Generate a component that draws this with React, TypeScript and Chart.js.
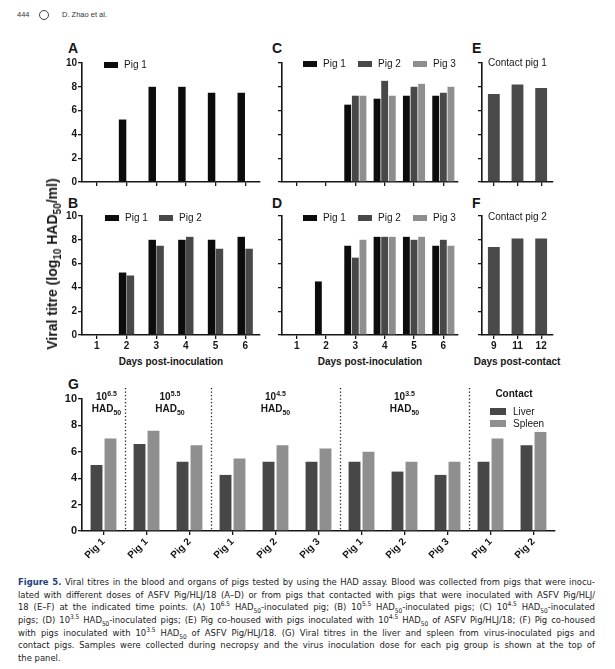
import React, { useEffect, useRef } from 'react';
import { Chart, registerables } from 'chart.js';
Chart.register(...registerables);

const FONT = '"Liberation Sans", Arial, Helvetica, sans-serif';
const CAPTION_FONT = '"Liberation Sans Narrow", "DejaVu Sans Condensed", "Liberation Sans", sans-serif';

// ---------- data ----------
const days = ['1', '2', '3', '4', '5', '6'];
const aPig1 = [null, 5.25, 8.0, 8.0, 7.5, 7.5];
const aEmpty = [null, null, null, null, null, null];
const bPig1 = [null, 5.25, 8.0, 8.0, 8.0, 8.25];
const bPig2 = [null, 5.0, 7.5, 8.25, 7.25, 7.25];
const cPig1 = [null, null, 6.5, 7.0, 7.25, 7.25];
const cPig2 = [null, null, 7.25, 8.5, 8.0, 7.5];
const cPig3 = [null, null, 7.25, 7.25, 8.25, 8.0];
const dPig1 = [null, 4.5, 7.5, 8.25, 8.25, 7.5];
const dPig2 = [null, null, 6.5, 8.25, 8.0, 8.0];
const dPig3 = [null, null, 8.0, 8.25, 8.25, 7.5];
const contactDays = ['9', '11', '12'];
const eContact1 = [7.4, 8.2, 7.9];
const fContact2 = [7.4, 8.1, 8.1];
const gLabels = ['Pig 1', 'Pig 1', 'Pig 2', 'Pig 1', 'Pig 2', 'Pig 3', 'Pig 1', 'Pig 2', 'Pig 3', 'Pig 1', 'Pig 2'];
const gLiver = [5.0, 6.6, 5.25, 4.25, 5.25, 5.25, 5.25, 4.5, 4.25, 5.25, 6.5];
const gSpleen = [7.0, 7.6, 6.5, 5.5, 6.5, 6.25, 6.0, 5.25, 5.25, 7.0, 7.5];
const gGroupSizes = [1, 2, 3, 3, 2];
const gDoses = ['6.5', '5.5', '4.5', '3.5'];
const yTicks = [0, 2, 4, 6, 8, 10];

const C_PIG1 = '#0c0c0c';
const C_PIG2 = '#484848';
const C_PIG3 = '#8e8e8e';
const C_CONTACT = '#4a4a4a';
const C_LIVER = '#474747';
const C_SPLEEN = '#8f8f8f';
const INK = '#161616';

type Geo = { pl: number; pt: number; pr: number; pb: number; yW: number; xH: number; padT: number; padR: number };
type DS = { label: string; data: (number | null)[]; color: string };

function BarPanel(props: {
  geo: Geo; labels: string[]; datasets: DS[]; showY: boolean; showX: boolean;
  catP: number; barP: number; xRot?: number; yFont?: number; plugins?: any[];
}) {
  const ref = useRef<HTMLCanvasElement>(null);
  const { geo } = props;
  const w = geo.yW + (geo.pr - geo.pl) + geo.padR;
  const h = geo.padT + (geo.pb - geo.pt) + geo.xH;
  useEffect(() => {
    const rot = props.xRot ?? 0;
    const chart = new Chart(ref.current!, {
      type: 'bar',
      data: {
        labels: props.labels,
        datasets: props.datasets.map((d) => ({
          label: d.label,
          data: d.data,
          backgroundColor: d.color,
          borderWidth: 0,
          categoryPercentage: props.catP,
          barPercentage: props.barP,
        })),
      },
      options: {
        responsive: false,
        animation: false,
        devicePixelRatio: 1,
        layout: { padding: { top: geo.padT, right: geo.padR, left: 0, bottom: 0 } },
        plugins: { legend: { display: false }, tooltip: { enabled: false } },
        scales: {
          x: {
            grid: { offset: false, drawOnChartArea: false, drawTicks: true, tickLength: 4, color: INK, lineWidth: 1.3 },
            border: { color: INK, width: 1.6 },
            ticks: {
              display: props.showX, color: INK, padding: 1, autoSkip: false,
              maxRotation: rot, minRotation: rot,
              font: { family: FONT, size: 10, weight: 'bold' },
            },
            afterFit: (s: any) => { s.height = geo.xH; },
          },
          y: {
            min: 0, max: 10,
            afterBuildTicks: (s: any) => { s.ticks = yTicks.map((v) => ({ value: v })); },
            grid: { drawOnChartArea: false, drawTicks: true, tickLength: 4, color: INK, lineWidth: 1.3 },
            border: { color: INK, width: 1.6 },
            ticks: {
              display: props.showY, color: INK, padding: 1,
              font: { family: FONT, size: props.yFont ?? 10, weight: 'bold' },
            },
            afterFit: (s: any) => { s.width = geo.yW; },
          },
        },
      } as any,
      plugins: props.plugins || [],
    });
    return () => chart.destroy();
  }, []);
  return (
    <canvas
      ref={ref}
      width={w}
      height={h}
      style={{ position: 'absolute', left: geo.pl - geo.yW, top: geo.pt - geo.padT, width: w, height: h }}
    />
  );
}

const separatorPlugin = {
  id: 'groupSeparators',
  afterDatasetsDraw(chart: any) {
    const xs = chart.scales.x;
    const { top, bottom } = chart.chartArea;
    const ctx = chart.ctx;
    ctx.save();
    ctx.strokeStyle = '#222';
    ctx.lineWidth = 1.3;
    ctx.setLineDash([1.3, 2.2]);
    let idx = 0;
    for (let g = 0; g < gGroupSizes.length - 1; g++) {
      idx += gGroupSizes[g];
      const px = Math.round((xs.getPixelForValue(idx - 1) + xs.getPixelForValue(idx)) / 2) + 0.5;
      ctx.beginPath();
      ctx.moveTo(px, top - 11);
      ctx.lineTo(px, bottom);
      ctx.stroke();
    }
    ctx.restore();
  },
};

const abs = (left: number, top: number, extra: React.CSSProperties = {}): React.CSSProperties => ({
  position: 'absolute', left, top, ...extra,
});

function Letter({ x, y, t }: { x: number; y: number; t: string }) {
  return <div style={abs(x, y, { font: `bold 14px ${FONT}`, lineHeight: '14px', color: INK })}>{t}</div>;
}

function Swatch({ x, y, c, w = 14, h = 6 }: { x: number; y: number; c: string; w?: number; h?: number }) {
  return <div style={abs(x, y, { width: w, height: h, background: c })} />;
}

function Txt({ x, y, t, bold = false, size = 10 }: { x: number; y: number; t: string; bold?: boolean; size?: number }) {
  return (
    <div style={abs(x, y, { font: `${bold ? 'bold ' : ''}${size}px ${FONT}`, lineHeight: '12px', color: INK, whiteSpace: 'nowrap' })}>
      {t}
    </div>
  );
}

function Centered({ cx, y, children, bold = true, size = 10 }: { cx: number; y: number; children: React.ReactNode; bold?: boolean; size?: number }) {
  return (
    <div style={abs(cx - 80, y, { width: 160, textAlign: 'center', font: `${bold ? 'bold ' : ''}${size}px ${FONT}`, lineHeight: '12px', color: INK, whiteSpace: 'nowrap' })}>
      {children}
    </div>
  );
}

const supS: React.CSSProperties = { fontSize: '7px', verticalAlign: 'super', lineHeight: 0 };
const subS: React.CSSProperties = { fontSize: '7px', verticalAlign: 'sub', lineHeight: 0 };
const capSup: React.CSSProperties = { fontSize: '6.5px', verticalAlign: 'super', lineHeight: 0 };
const capSub: React.CSSProperties = { fontSize: '6.5px', verticalAlign: 'sub', lineHeight: 0 };

function CapLine({ children, last = false }: { children: React.ReactNode; last?: boolean }) {
  return (
    <div style={{ textAlign: 'justify', textAlignLast: last ? 'left' : 'justify', whiteSpace: 'nowrap', height: '12.7px' } as any}>
      {children}
    </div>
  );
}

const HAD = () => (<>HAD<span style={capSub}>50</span></>);
const Pow = ({ e }: { e: string }) => (<>10<span style={capSup}>{e}</span></>);

export default function App() {
  const topA: Geo = { pl: 82, pt: 63, pr: 260, pb: 182, yW: 25, xH: 8, padT: 8, padR: 3 };
  const botB: Geo = { pl: 82, pt: 216, pr: 260, pb: 335, yW: 25, xH: 18, padT: 8, padR: 3 };
  const topC: Geo = { pl: 282, pt: 63, pr: 458, pb: 182, yW: 8, xH: 8, padT: 8, padR: 3 };
  const botD: Geo = { pl: 282, pt: 216, pr: 458, pb: 335, yW: 8, xH: 18, padT: 8, padR: 3 };
  const topE: Geo = { pl: 482, pt: 63, pr: 553, pb: 182, yW: 8, xH: 8, padT: 8, padR: 3 };
  const botF: Geo = { pl: 482, pt: 216, pr: 553, pb: 335, yW: 8, xH: 18, padT: 8, padR: 3 };
  const geoG: Geo = { pl: 82, pt: 399, pr: 555, pb: 531, yW: 42, xH: 40, padT: 14, padR: 10 };

  return (
    <div style={{ position: 'absolute', left: 0, top: 0, width: 615, height: 669, background: '#fff', overflow: 'hidden' }}>
      {/* header */}
      <div style={abs(17, 10, { font: `7.5px ${FONT}`, color: '#333', lineHeight: '9px' })}>444</div>
      <div style={abs(39, 10, { width: 8, height: 8, border: '1px solid #444', borderRadius: '50%' })} />
      <div style={abs(62, 10, { font: `7.5px ${FONT}`, color: '#333', lineHeight: '9px' })}>D. Zhao et al.</div>

      {/* panel letters */}
      <Letter x={68} y={41} t="A" />
      <Letter x={272} y={41} t="C" />
      <Letter x={472} y={41} t="E" />
      <Letter x={68} y={196} t="B" />
      <Letter x={272} y={196} t="D" />
      <Letter x={472} y={196} t="F" />
      <Letter x={68} y={377} t="G" />

      {/* charts */}
      <BarPanel geo={topA} labels={days} showY showX={false} catP={0.53} barP={0.95}
        datasets={[{ label: 'Pig 1', data: aPig1, color: C_PIG1 }, { label: '', data: aEmpty, color: C_PIG2 }]} />
      <BarPanel geo={botB} labels={days} showY showX catP={0.53} barP={0.95}
        datasets={[{ label: 'Pig 1', data: bPig1, color: C_PIG1 }, { label: 'Pig 2', data: bPig2, color: C_PIG2 }]} />
      <BarPanel geo={topC} labels={days} showY={false} showX={false} catP={0.78} barP={0.9}
        datasets={[{ label: 'Pig 1', data: cPig1, color: C_PIG1 }, { label: 'Pig 2', data: cPig2, color: C_PIG2 }, { label: 'Pig 3', data: cPig3, color: C_PIG3 }]} />
      <BarPanel geo={botD} labels={days} showY={false} showX catP={0.78} barP={0.9}
        datasets={[{ label: 'Pig 1', data: dPig1, color: C_PIG1 }, { label: 'Pig 2', data: dPig2, color: C_PIG2 }, { label: 'Pig 3', data: dPig3, color: C_PIG3 }]} />
      <BarPanel geo={topE} labels={contactDays} showY={false} showX={false} catP={0.5} barP={1}
        datasets={[{ label: 'Contact pig 1', data: eContact1, color: C_CONTACT }]} />
      <BarPanel geo={botF} labels={contactDays} showY={false} showX catP={0.5} barP={1}
        datasets={[{ label: 'Contact pig 2', data: fContact2, color: C_CONTACT }]} />
      <BarPanel geo={geoG} labels={gLabels} showY showX catP={0.65} barP={0.85} xRot={45} yFont={11}
        plugins={[separatorPlugin]}
        datasets={[{ label: 'Liver', data: gLiver, color: C_LIVER }, { label: 'Spleen', data: gSpleen, color: C_SPLEEN }]} />

      {/* legends A-F */}
      <Swatch x={104} y={62} c={C_PIG1} />
      <Txt x={124} y={59} t="Pig 1" />

      <Swatch x={105} y={215} c={C_PIG1} />
      <Txt x={125} y={212} t="Pig 1" />
      <Swatch x={159} y={215} c={C_PIG2} />
      <Txt x={179} y={212} t="Pig 2" />

      <Swatch x={303} y={61} c={C_PIG1} />
      <Txt x={323} y={58} t="Pig 1" />
      <Swatch x={358} y={61} c={C_PIG2} />
      <Txt x={378} y={58} t="Pig 2" />
      <Swatch x={413} y={61} c={C_PIG3} />
      <Txt x={433} y={58} t="Pig 3" />

      <Swatch x={303} y={215} c={C_PIG1} />
      <Txt x={323} y={212} t="Pig 1" />
      <Swatch x={358} y={215} c={C_PIG2} />
      <Txt x={378} y={212} t="Pig 2" />
      <Swatch x={413} y={215} c={C_PIG3} />
      <Txt x={433} y={212} t="Pig 3" />

      <Txt x={488} y={57} t="Contact pig 1" />
      <Txt x={488} y={211} t="Contact pig 2" />

      {/* axis titles */}
      <Centered cx={171} y={356}>Days post-inoculation</Centered>
      <Centered cx={370} y={356}>Days post-inoculation</Centered>
      <Centered cx={517} y={356}>Days post-contact</Centered>
      <div style={abs(51.5, 264, {
        transform: 'translate(-50%, -50%) rotate(-90deg)', font: `bold 14px ${FONT}`, color: INK,
        whiteSpace: 'nowrap', lineHeight: '16px',
      })}>
        Viral titre (log<span style={{ fontSize: '10px', verticalAlign: 'sub', lineHeight: 0 }}>10</span> HAD<span style={{ fontSize: '10px', verticalAlign: 'sub', lineHeight: 0 }}>50</span>/ml)
      </div>

      {/* panel G group labels */}
      {[106.5, 170, 275.5, 404.5].map((cx, i) => (
        <div key={i} style={abs(cx - 40, 391, { width: 80, textAlign: 'center', font: `bold 10px ${FONT}`, lineHeight: '12px', color: INK })}>
          <div>10<span style={supS}>{gDoses[i]}</span></div>
          <div>HAD<span style={subS}>50</span></div>
        </div>
      ))}
      <Centered cx={514} y={388}>Contact</Centered>
      <Swatch x={490} y={408} w={16} h={7} c={C_LIVER} />
      <Txt x={513} y={405.5} t="Liver" />
      <Swatch x={490} y={420} w={16} h={7} c={C_SPLEEN} />
      <Txt x={513} y={417.5} t="Spleen" />

      {/* caption */}
      <div style={abs(18, 576, { width: 577, font: `9.4px ${CAPTION_FONT}`, lineHeight: '12.7px', color: '#222' })}>
        <CapLine><b style={{ color: '#23407a' }}>Figure 5.</b> Viral titres in the blood and organs of pigs tested by using the HAD assay. Blood was collected from pigs that were inocu-</CapLine>
        <CapLine>lated with different doses of ASFV Pig/HLJ/18 (A–D) or from pigs that contacted with pigs that were inoculated with ASFV Pig/HLJ/</CapLine>
        <CapLine>18 (E–F) at the indicated time points. (A) <Pow e="6.5" /> <HAD />-inoculated pig; (B) <Pow e="5.5" /> <HAD />-inoculated pigs; (C) <Pow e="4.5" /> <HAD />-inoculated</CapLine>
        <CapLine>pigs; (D) <Pow e="3.5" /> <HAD />-inoculated pigs; (E) Pig co-housed with pigs inoculated with <Pow e="4.5" /> <HAD /> of ASFV Pig/HLJ/18; (F) Pig co-housed</CapLine>
        <CapLine>with pigs inoculated with <Pow e="3.5" /> <HAD /> of ASFV Pig/HLJ/18. (G) Viral titres in the liver and spleen from virus-inoculated pigs and</CapLine>
        <CapLine>contact pigs. Samples were collected during necropsy and the virus inoculation dose for each pig group is shown at the top of</CapLine>
        <CapLine last>the panel.</CapLine>
      </div>
    </div>
  );
}
